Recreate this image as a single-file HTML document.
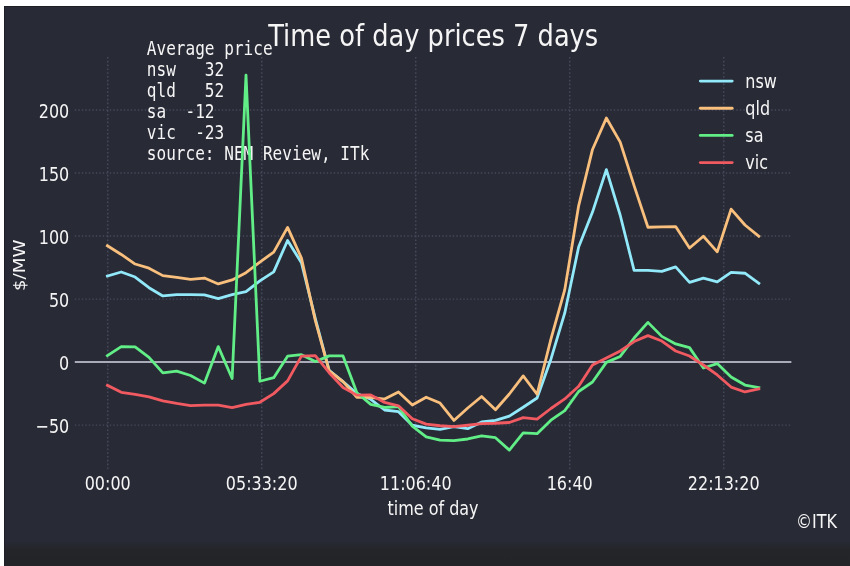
<!DOCTYPE html>
<html><head><meta charset="utf-8"><title>Time of day prices 7 days</title>
<style>
html,body{margin:0;padding:0;background:#ffffff;}
body{width:850px;height:566px;overflow:hidden;}
svg{display:block;filter:blur(0.45px);}
text{fill:#f5f5f5;}
</style></head>
<body>
<svg width="850" height="566" viewBox="0 0 850 566">
<defs><linearGradient id="btm" x1="0" y1="0" x2="0" y2="1">
<stop offset="0" stop-color="#282a36"/><stop offset="0.15" stop-color="#282a36"/><stop offset="0.31" stop-color="#26282f"/><stop offset="0.46" stop-color="#232529"/><stop offset="1" stop-color="#222428"/></linearGradient></defs>
<rect x="4" y="6" width="846" height="560" fill="#282a36"/>
<rect x="4" y="536" width="846" height="30" fill="url(#btm)"/>
<rect x="4" y="6" width="1" height="560" fill="#1d1e26"/>
<rect x="4" y="6" width="846" height="1" fill="#1d1e26"/>
<line x1="107.70" y1="469.00" x2="107.70" y2="56.30" stroke="#46495b" stroke-width="1.5" stroke-dasharray="1.6 2.2"/>
<line x1="261.70" y1="469.00" x2="261.70" y2="56.30" stroke="#46495b" stroke-width="1.5" stroke-dasharray="1.6 2.2"/>
<line x1="415.70" y1="469.00" x2="415.70" y2="56.30" stroke="#46495b" stroke-width="1.5" stroke-dasharray="1.6 2.2"/>
<line x1="569.70" y1="469.00" x2="569.70" y2="56.30" stroke="#46495b" stroke-width="1.5" stroke-dasharray="1.6 2.2"/>
<line x1="723.70" y1="469.00" x2="723.70" y2="56.30" stroke="#46495b" stroke-width="1.5" stroke-dasharray="1.6 2.2"/>
<line x1="74.80" y1="110.00" x2="791.40" y2="110.00" stroke="#46495b" stroke-width="1.4" stroke-dasharray="1.4 2.1"/>
<line x1="74.80" y1="173.03" x2="791.40" y2="173.03" stroke="#46495b" stroke-width="1.4" stroke-dasharray="1.4 2.1"/>
<line x1="74.80" y1="236.05" x2="791.40" y2="236.05" stroke="#46495b" stroke-width="1.4" stroke-dasharray="1.4 2.1"/>
<line x1="74.80" y1="299.08" x2="791.40" y2="299.08" stroke="#46495b" stroke-width="1.4" stroke-dasharray="1.4 2.1"/>
<line x1="74.80" y1="425.12" x2="791.40" y2="425.12" stroke="#46495b" stroke-width="1.4" stroke-dasharray="1.4 2.1"/>
<line x1="74.80" y1="362.10" x2="791.40" y2="362.10" stroke="#a9abb8" stroke-width="2"/>
<g><text transform="translate(146.80,54.80) scale(1.0,1.16)" font-size="16.08" text-anchor="start" font-family="'DejaVu Sans Mono', 'Liberation Mono', monospace" >Average&#160;price</text>
<text transform="translate(146.80,75.85) scale(1.0,1.16)" font-size="16.08" text-anchor="start" font-family="'DejaVu Sans Mono', 'Liberation Mono', monospace" >nsw&#160;&#160;&#160;32</text>
<text transform="translate(146.80,96.90) scale(1.0,1.16)" font-size="16.08" text-anchor="start" font-family="'DejaVu Sans Mono', 'Liberation Mono', monospace" >qld&#160;&#160;&#160;52</text>
<text transform="translate(146.80,117.95) scale(1.0,1.16)" font-size="16.08" text-anchor="start" font-family="'DejaVu Sans Mono', 'Liberation Mono', monospace" >sa&#160;&#160;-12</text>
<text transform="translate(146.80,139.00) scale(1.0,1.16)" font-size="16.08" text-anchor="start" font-family="'DejaVu Sans Mono', 'Liberation Mono', monospace" >vic&#160;&#160;-23</text>
<text transform="translate(146.80,160.05) scale(1.0,1.16)" font-size="16.08" text-anchor="start" font-family="'DejaVu Sans Mono', 'Liberation Mono', monospace" >source:&#160;NEM&#160;Review,&#160;ITk</text></g>
<polyline points="107.40,276.01 121.26,271.97 135.12,277.02 148.98,287.73 162.84,295.92 176.70,294.54 190.56,294.54 204.42,294.92 218.28,298.70 232.14,294.66 246.00,291.64 259.86,280.92 273.72,271.85 287.58,240.46 301.44,262.77 315.30,318.61 329.16,370.29 343.02,381.64 356.88,393.49 370.74,399.28 384.60,410.00 398.46,411.64 412.32,425.25 426.18,427.77 440.04,429.41 453.90,426.64 467.76,428.65 481.62,421.97 495.48,420.46 509.34,416.18 523.20,407.23 537.06,398.02 550.92,359.20 564.78,312.94 578.64,247.02 592.50,212.10 606.36,169.62 620.22,215.25 634.08,270.46 647.94,270.46 661.80,271.34 675.66,266.81 689.52,282.44 703.38,278.15 717.24,281.81 731.10,272.35 744.96,273.23 758.82,283.32" fill="none" stroke="#92e9f9" stroke-width="2.8" stroke-linejoin="round" stroke-linecap="square"/>
<polyline points="107.40,245.76 121.26,254.45 135.12,264.03 148.98,268.19 162.84,275.63 176.70,277.27 190.56,279.41 204.42,278.02 218.28,283.95 232.14,279.92 246.00,272.73 259.86,262.02 273.72,252.06 287.58,227.35 301.44,258.11 315.30,320.50 329.16,370.92 343.02,381.64 356.88,397.39 370.74,397.39 384.60,399.03 398.46,391.97 412.32,404.96 426.18,397.27 440.04,403.07 453.90,420.46 467.76,407.98 481.62,396.51 495.48,409.75 509.34,393.99 523.20,375.97 537.06,394.24 550.92,339.16 564.78,289.62 578.64,205.80 592.50,149.45 606.36,118.07 620.22,142.14 634.08,185.63 647.94,227.23 661.80,226.85 675.66,226.60 689.52,248.02 703.38,236.30 717.24,251.81 731.10,209.08 744.96,224.96 758.82,236.30" fill="none" stroke="#f8bf7d" stroke-width="2.8" stroke-linejoin="round" stroke-linecap="square"/>
<polyline points="107.40,355.67 121.26,346.60 135.12,346.85 148.98,357.31 162.84,372.94 176.70,371.05 190.56,375.46 204.42,383.15 218.28,346.60 232.14,378.49 246.00,75.08 259.86,381.26 273.72,377.73 287.58,356.18 301.44,354.66 315.30,361.60 329.16,355.92 343.02,355.92 356.88,392.73 370.74,404.33 384.60,407.48 398.46,406.72 412.32,426.13 426.18,436.85 440.04,440.12 453.90,440.63 467.76,438.99 481.62,435.97 495.48,437.73 509.34,450.08 523.20,432.94 537.06,433.70 550.92,420.21 564.78,410.63 578.64,391.47 592.50,382.02 606.36,362.35 620.22,356.43 634.08,338.02 647.94,322.39 661.80,336.39 675.66,343.95 689.52,347.60 703.38,368.02 717.24,363.61 731.10,376.97 744.96,385.04 758.82,387.56" fill="none" stroke="#62ee87" stroke-width="2.8" stroke-linejoin="round" stroke-linecap="square"/>
<polyline points="107.40,385.29 121.26,392.35 135.12,394.37 148.98,396.89 162.84,400.92 176.70,403.44 190.56,405.59 204.42,405.08 218.28,405.08 232.14,407.60 246.00,404.45 259.86,402.31 273.72,393.61 287.58,380.88 301.44,356.18 315.30,355.55 329.16,372.69 343.02,387.56 356.88,395.13 370.74,394.87 384.60,402.44 398.46,405.84 412.32,418.70 426.18,424.12 440.04,425.76 453.90,426.64 467.76,425.25 481.62,423.61 495.48,423.23 509.34,422.48 523.20,417.56 537.06,419.07 550.92,408.49 564.78,398.91 578.64,386.18 592.50,365.00 606.36,357.94 620.22,351.01 634.08,341.55 647.94,335.63 661.80,341.05 675.66,351.01 689.52,356.05 703.38,365.00 717.24,374.96 731.10,387.06 744.96,391.97 758.82,388.95" fill="none" stroke="#f05a60" stroke-width="2.8" stroke-linejoin="round" stroke-linecap="square"/>
<line x1="700.3" y1="81.10" x2="732.2" y2="81.10" stroke="#92e9f9" stroke-width="2.8" stroke-linecap="round"/>
<line x1="700.3" y1="108.25" x2="732.2" y2="108.25" stroke="#f8bf7d" stroke-width="2.8" stroke-linecap="round"/>
<line x1="700.3" y1="135.40" x2="732.2" y2="135.40" stroke="#62ee87" stroke-width="2.8" stroke-linecap="round"/>
<line x1="700.3" y1="162.55" x2="732.2" y2="162.55" stroke="#f05a60" stroke-width="2.8" stroke-linecap="round"/>
<g>
<text transform="translate(433.20,45.50) scale(1.0,1.14)" font-size="25.7" text-anchor="middle" font-family="'DejaVu Sans', 'Liberation Sans', sans-serif" >Time of day prices 7 days</text>
<text transform="translate(69.30,117.50) scale(1.0,1.21)" font-size="16.0" text-anchor="end" font-family="'DejaVu Sans', 'Liberation Sans', sans-serif" >200</text>
<text transform="translate(69.30,180.53) scale(1.0,1.21)" font-size="16.0" text-anchor="end" font-family="'DejaVu Sans', 'Liberation Sans', sans-serif" >150</text>
<text transform="translate(69.30,243.55) scale(1.0,1.21)" font-size="16.0" text-anchor="end" font-family="'DejaVu Sans', 'Liberation Sans', sans-serif" >100</text>
<text transform="translate(69.30,306.58) scale(1.0,1.21)" font-size="16.0" text-anchor="end" font-family="'DejaVu Sans', 'Liberation Sans', sans-serif" >50</text>
<text transform="translate(69.30,369.60) scale(1.0,1.21)" font-size="16.0" text-anchor="end" font-family="'DejaVu Sans', 'Liberation Sans', sans-serif" >0</text>
<text transform="translate(69.30,432.62) scale(1.0,1.21)" font-size="16.0" text-anchor="end" font-family="'DejaVu Sans', 'Liberation Sans', sans-serif" >−50</text>
<text transform="translate(107.70,489.60) scale(1.0,1.21)" font-size="16.0" text-anchor="middle" font-family="'DejaVu Sans', 'Liberation Sans', sans-serif" >00:00</text>
<text transform="translate(261.70,489.60) scale(1.0,1.21)" font-size="16.0" text-anchor="middle" font-family="'DejaVu Sans', 'Liberation Sans', sans-serif" >05:33:20</text>
<text transform="translate(415.70,489.60) scale(1.0,1.21)" font-size="16.0" text-anchor="middle" font-family="'DejaVu Sans', 'Liberation Sans', sans-serif" >11:06:40</text>
<text transform="translate(569.70,489.60) scale(1.0,1.21)" font-size="16.0" text-anchor="middle" font-family="'DejaVu Sans', 'Liberation Sans', sans-serif" >16:40</text>
<text transform="translate(723.70,489.60) scale(1.0,1.21)" font-size="16.0" text-anchor="middle" font-family="'DejaVu Sans', 'Liberation Sans', sans-serif" >22:13:20</text>
<text transform="translate(433.00,514.90) scale(1.0,1.21)" font-size="16.0" text-anchor="middle" font-family="'DejaVu Sans', 'Liberation Sans', sans-serif" >time of day</text>
<text transform="translate(25.2,265.3) rotate(-90) scale(1.14,1)" font-size="16.0" text-anchor="middle" font-family="'DejaVu Sans', 'Liberation Sans', sans-serif">$/MW</text>
<text transform="translate(745.30,87.60) scale(1.0,1.21)" font-size="16.0" text-anchor="start" font-family="'DejaVu Sans', 'Liberation Sans', sans-serif" >nsw</text>
<text transform="translate(745.30,114.70) scale(1.0,1.21)" font-size="16.0" text-anchor="start" font-family="'DejaVu Sans', 'Liberation Sans', sans-serif" >qld</text>
<text transform="translate(745.30,141.80) scale(1.0,1.21)" font-size="16.0" text-anchor="start" font-family="'DejaVu Sans', 'Liberation Sans', sans-serif" >sa</text>
<text transform="translate(745.30,168.90) scale(1.0,1.21)" font-size="16.0" text-anchor="start" font-family="'DejaVu Sans', 'Liberation Sans', sans-serif" >vic</text>
<text transform="translate(796.00,527.60) scale(1.0,1.21)" font-size="16.0" text-anchor="start" font-family="'DejaVu Sans', 'Liberation Sans', sans-serif" >©ITK</text>
</g>
</svg>
</body></html>
